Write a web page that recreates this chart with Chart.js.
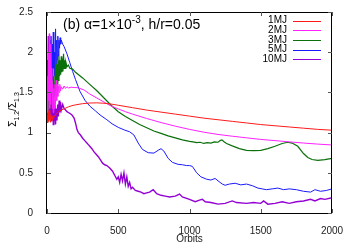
<!DOCTYPE html>
<html>
<head>
<meta charset="utf-8">
<script src="https://cdn.jsdelivr.net/npm/chart.js@4"></script>
<style>
html, body { margin: 0; padding: 0; background: #fff; }
</style>
</head>
<body>
<canvas id="canvas" width="350" height="245"></canvas>
<script>
// [orbit, Sigma_1.2/Sigma_1.3]
const mj1 = [[0,1.15],[3,1.22],[6,1.12],[9,1.25],[12,1.14],[15,1.28],[18,1.16],[21,1.24],[24,1.13],[27,1.22],
  [30,1.17],[35,1.21],[40,1.15],[45,1.2],[50,1.19],[60,1.22],[70,1.24],[80,1.26],[100,1.28],[125,1.3],
  [150,1.32],[175,1.335],[200,1.345],[250,1.36],[300,1.368],[350,1.37],[400,1.365],[450,1.355],[500,1.34],
  [600,1.31],[700,1.28],[800,1.255],[900,1.23],[1000,1.205],[1100,1.18],[1200,1.16],[1300,1.14],[1400,1.12],
  [1500,1.1],[1600,1.085],[1700,1.07],[1800,1.055],[1900,1.04],[2000,1.03]]

const mj2 = [[0,1.3],[4,1.7],[7,1.25],[10,2.0],[13,1.4],[16,2.23],[19,1.3],[22,1.9],[25,1.35],[28,2.1],
  [31,1.5],[34,1.8],[37,1.3],[40,1.6],[44,1.25],[48,1.55],[52,1.3],[56,1.6],[60,1.35],[64,1.65],[68,1.4],
  [72,1.6],[76,1.45],[80,1.58],[85,1.5],[90,1.6],[95,1.52],[100,1.57],[110,1.54],[120,1.58],[130,1.55],
  [140,1.57],[150,1.555],[170,1.565],[190,1.56],[210,1.56],[230,1.55],[260,1.53],[300,1.48],[350,1.43],
  [400,1.38],[450,1.33],[500,1.295],[550,1.26],[600,1.23],[700,1.175],[800,1.125],[900,1.08],[1000,1.04],
  [1100,1.005],[1200,0.977],[1300,0.955],[1400,0.935],[1500,0.915],[1600,0.9],[1700,0.885],[1800,0.87],
  [1900,0.857],[2000,0.846]]

const mj3 = [[0,1.2],[4,1.5],[8,1.25],[12,1.6],[16,1.3],[20,1.7],[24,1.35],[28,1.65],[32,1.3],[36,1.55],
  [40,1.35],[44,1.7],[48,1.4],[52,1.6],[56,1.45],[60,1.9],[64,1.5],[68,1.85],[72,1.6],[76,1.9],[80,1.65],
  [84,1.95],[88,1.7],[92,1.9],[96,1.72],[100,1.95],[104,1.75],[108,1.92],[112,1.76],[116,1.98],[120,1.8],
  [124,1.9],[128,1.8],[132,1.88],[140,1.82],[150,1.84],[160,1.8],[180,1.79],[200,1.75],[250,1.68],
  [300,1.6],[350,1.52],[400,1.43],[450,1.34],[500,1.26],[550,1.2],[600,1.15],[650,1.1],[700,1.06],
  [750,1.02],[800,0.99],[850,0.96],[900,0.935],[950,0.91],[1000,0.89],[1025,0.885],[1050,0.875],
  [1075,0.88],[1100,0.865],[1125,0.875],[1150,0.87],[1175,0.885],[1200,0.88],[1215,0.9],[1228,0.91],
  [1240,0.89],[1260,0.865],[1300,0.835],[1350,0.8],[1400,0.78],[1450,0.775],[1500,0.78],[1550,0.8],
  [1600,0.83],[1650,0.865],[1690,0.88],[1720,0.87],[1760,0.83],[1800,0.74],[1830,0.69],[1860,0.665],
  [1900,0.655],[1950,0.665],[2000,0.68]]

const mj5 = [[0,1.5],[4,1.9],[8,1.4],[12,2.0],[16,1.6],[20,2.15],[24,1.7],[28,2.2],[32,1.75],[36,2.1],
  [40,1.65],[44,2.25],[48,1.8],[52,2.0],[56,1.7],[60,2.29],[64,1.85],[68,2.15],[72,1.9],[76,2.2],[80,1.95],
  [84,2.15],[88,2.05],[92,2.18],[96,2.1],[100,2.15],[110,2.1],[120,2.07],[140,1.98],[160,1.87],[180,1.76],
  [200,1.66],[232,1.51],[267,1.4],[300,1.33],[340,1.27],[372,1.22],[420,1.16],[456,1.11],[500,1.065],
  [547,1.03],[580,1.01],[610,0.97],[640,0.87],[670,0.79],[710,0.75],[750,0.745],[780,0.78],[800,0.8],
  [820,0.77],[850,0.68],[880,0.63],[920,0.605],[950,0.6],[980,0.59],[1000,0.59],[1020,0.58],[1050,0.5],
  [1080,0.45],[1120,0.42],[1150,0.41],[1180,0.43],[1200,0.4],[1230,0.36],[1250,0.345],[1280,0.36],
  [1320,0.37],[1360,0.35],[1400,0.36],[1440,0.34],[1480,0.31],[1510,0.3],[1540,0.29],[1580,0.3],
  [1620,0.31],[1660,0.29],[1700,0.3],[1750,0.29],[1800,0.27],[1850,0.26],[1880,0.29],[1920,0.27],
  [1960,0.28],[2000,0.3]]

const mj10 = [[0,1.3],[3,1.9],[6,1.15],[9,2.2],[12,1.3],[15,2.0],[18,1.2],[21,2.15],[24,1.4],[27,1.8],
  [30,1.15],[33,1.7],[36,1.2],[40,1.5],[44,1.1],[48,1.4],[52,1.15],[56,1.35],[60,1.1],[65,1.3],[70,1.15],
  [75,1.35],[80,1.2],[85,1.4],[90,1.25],[95,1.38],[100,1.28],[110,1.35],[120,1.3],[130,1.28],[140,1.26],
  [150,1.25],[160,1.24],[175,1.22],[190,1.18],[200,1.12],[210,1.04],[220,1.0],[235,0.97],[250,0.93],
  [265,0.9],[280,0.87],[290,0.85],[300,0.83],[315,0.8],[330,0.76],[345,0.73],[360,0.7],[375,0.66],
  [390,0.62],[405,0.6],[420,0.59],[440,0.56],[460,0.52],[475,0.47],[490,0.42],[500,0.45],[510,0.38],
  [520,0.48],[530,0.4],[540,0.5],[550,0.36],[560,0.45],[570,0.33],[580,0.38],[590,0.3],[600,0.32],
  [620,0.28],[640,0.27],[660,0.26],[680,0.24],[700,0.25],[720,0.26],[745,0.29],[770,0.24],[800,0.22],
  [830,0.21],[860,0.2],[900,0.21],[930,0.235],[950,0.2],[1000,0.17],[1040,0.14],[1070,0.16],[1090,0.17],
  [1110,0.14],[1150,0.13],[1200,0.11],[1250,0.12],[1300,0.15],[1330,0.13],[1400,0.12],[1450,0.13],
  [1500,0.12],[1520,0.15],[1550,0.11],[1600,0.12],[1650,0.14],[1700,0.12],[1750,0.14],[1800,0.15],
  [1850,0.17],[1880,0.15],[1920,0.18],[1950,0.17],[2000,0.19]]

const seriesLabels = ['1MJ', '2MJ', '3MJ', '5MJ', '10MJ']
const seriesColors = ['#ff1a1a', '#ff22ff', '#0b700b', '#1a1aff', '#9400d3']
const seriesWidths = [1, 1, 1.2, 1, 1.4]
const xTicks = [0, 500, 1000, 1500, 2000]
const yTicks = [0, 0.5, 1, 1.5, 2, 2.5]

const FONT = '"Liberation Sans", Arial, sans-serif'

const toPoints = arr => arr.map(p => ({ x: p[0], y: p[1] }))

const data = {
    datasets: [mj1, mj2, mj3, mj5, mj10].map((s, i) => ({
        label: seriesLabels[i],
        data: toPoints(s),
        borderColor: seriesColors[i],
        backgroundColor: seriesColors[i],
        borderWidth: seriesWidths[i],
        pointRadius: 0,
        tension: 0,
    })),
}

// gnuplot-ish frame: inward ticks on all sides, text title, right aligned key
const decor = {
    id: 'decor',
    afterDatasetsDraw(chart) {
        const ctx = chart.ctx
        const a = chart.chartArea
        const xs = chart.scales.x, ys = chart.scales.y
        ctx.save()
        ctx.strokeStyle = '#000'
        ctx.lineWidth = 1
        ctx.strokeRect(a.left - 0.5, a.top + 0.5, a.right - a.left, a.bottom - a.top)
        ctx.strokeStyle = '#555'
        ctx.beginPath()
        xTicks.forEach(v => {
            const px = Math.round(xs.getPixelForValue(v)) + 0.5
            ctx.moveTo(px, a.bottom); ctx.lineTo(px, a.bottom - 4)
            ctx.moveTo(px, a.top); ctx.lineTo(px, a.top + 4)
        })
        yTicks.forEach(v => {
            const py = Math.round(ys.getPixelForValue(v)) + 0.5
            ctx.moveTo(a.left, py); ctx.lineTo(a.left + 4, py)
            ctx.moveTo(a.right, py); ctx.lineTo(a.right - 4, py)
        })
        ctx.stroke()

        // title inside the plot
        ctx.fillStyle = '#000'
        ctx.textBaseline = 'alphabetic'
        ctx.textAlign = 'left'
        let x = a.left + 16
        const y = a.top + 17
        ctx.font = '14px ' + FONT
        let t = '(b) α=1×10'
        ctx.fillText(t, x, y); x += ctx.measureText(t).width
        ctx.font = '10px ' + FONT
        t = '-3'
        ctx.fillText(t, x, y - 6); x += ctx.measureText(t).width
        ctx.font = '14px ' + FONT
        ctx.fillText(', h/r=0.05', x, y)

        // key
        ctx.font = '10px ' + FONT
        ctx.textAlign = 'right'
        ctx.textBaseline = 'middle'
        chart.data.datasets.forEach((ds, i) => {
            const ly = a.top + 8.5 + i * 9.7
            ctx.fillStyle = '#000'
            ctx.fillText(ds.label, a.right - 45, ly)
            ctx.strokeStyle = ds.borderColor
            ctx.lineWidth = 1
            ctx.beginPath()
            ctx.moveTo(a.right - 39, Math.round(ly) + 0.5)
            ctx.lineTo(a.right - 11, Math.round(ly) + 0.5)
            ctx.stroke()
        })

        // y label with subscripts
        ctx.save()
        ctx.translate(13, (a.top + a.bottom) / 2 - 3)
        ctx.rotate(-Math.PI / 2)
        ctx.textAlign = 'left'
        ctx.textBaseline = 'alphabetic'
        const parts = [['Σ', 10, 0], ['1.2', 7, 2.5], ['/Σ', 10, 0], ['1.3', 7, 2.5]]
        let w = 0
        parts.forEach(p => { ctx.font = p[1] + 'px ' + FONT; w += ctx.measureText(p[0]).width })
        let px = -w / 2
        parts.forEach(p => {
            ctx.font = p[1] + 'px ' + FONT
            ctx.fillText(p[0], px, 3 + p[2])
            px += ctx.measureText(p[0]).width
        })
        ctx.restore()
        ctx.restore()
    }
}

const config = {
    type: 'line',
    data: data,
    options: {
        responsive: false,
        animation: false,
        devicePixelRatio: 1,
        layout: { padding: { left: 0, right: 18, top: 10, bottom: 0 } },
        plugins: { legend: { display: false }, tooltip: { enabled: false } },
        scales: {
            x: {
                type: 'linear',
                min: 0, max: 2000,
                afterFit: s => { s.height = 32 },
                afterBuildTicks: s => { s.ticks = xTicks.map(v => ({ value: v })) },
                grid: { display: false },
                border: { display: false },
                ticks: { padding: 4, color: '#222', font: { family: FONT, size: 10 }, callback: v => String(v), maxRotation: 0 },
                title: { display: true, text: 'Orbits', color: '#222', font: { family: FONT, size: 10 }, padding: { top: 0, bottom: 0 } },
            },
            y: {
                min: 0, max: 2.5,
                afterFit: s => { s.width = 47 },
                afterBuildTicks: s => { s.ticks = yTicks.map(v => ({ value: v })) },
                grid: { display: false },
                border: { display: false },
                ticks: { padding: 6, color: '#222', font: { family: FONT, size: 10 }, callback: v => String(v) },
            },
        },
    },
    plugins: [decor],
}

const canvas = document.getElementById('canvas')
const chart = new Chart(canvas, config)
</script>
</body>
</html>
